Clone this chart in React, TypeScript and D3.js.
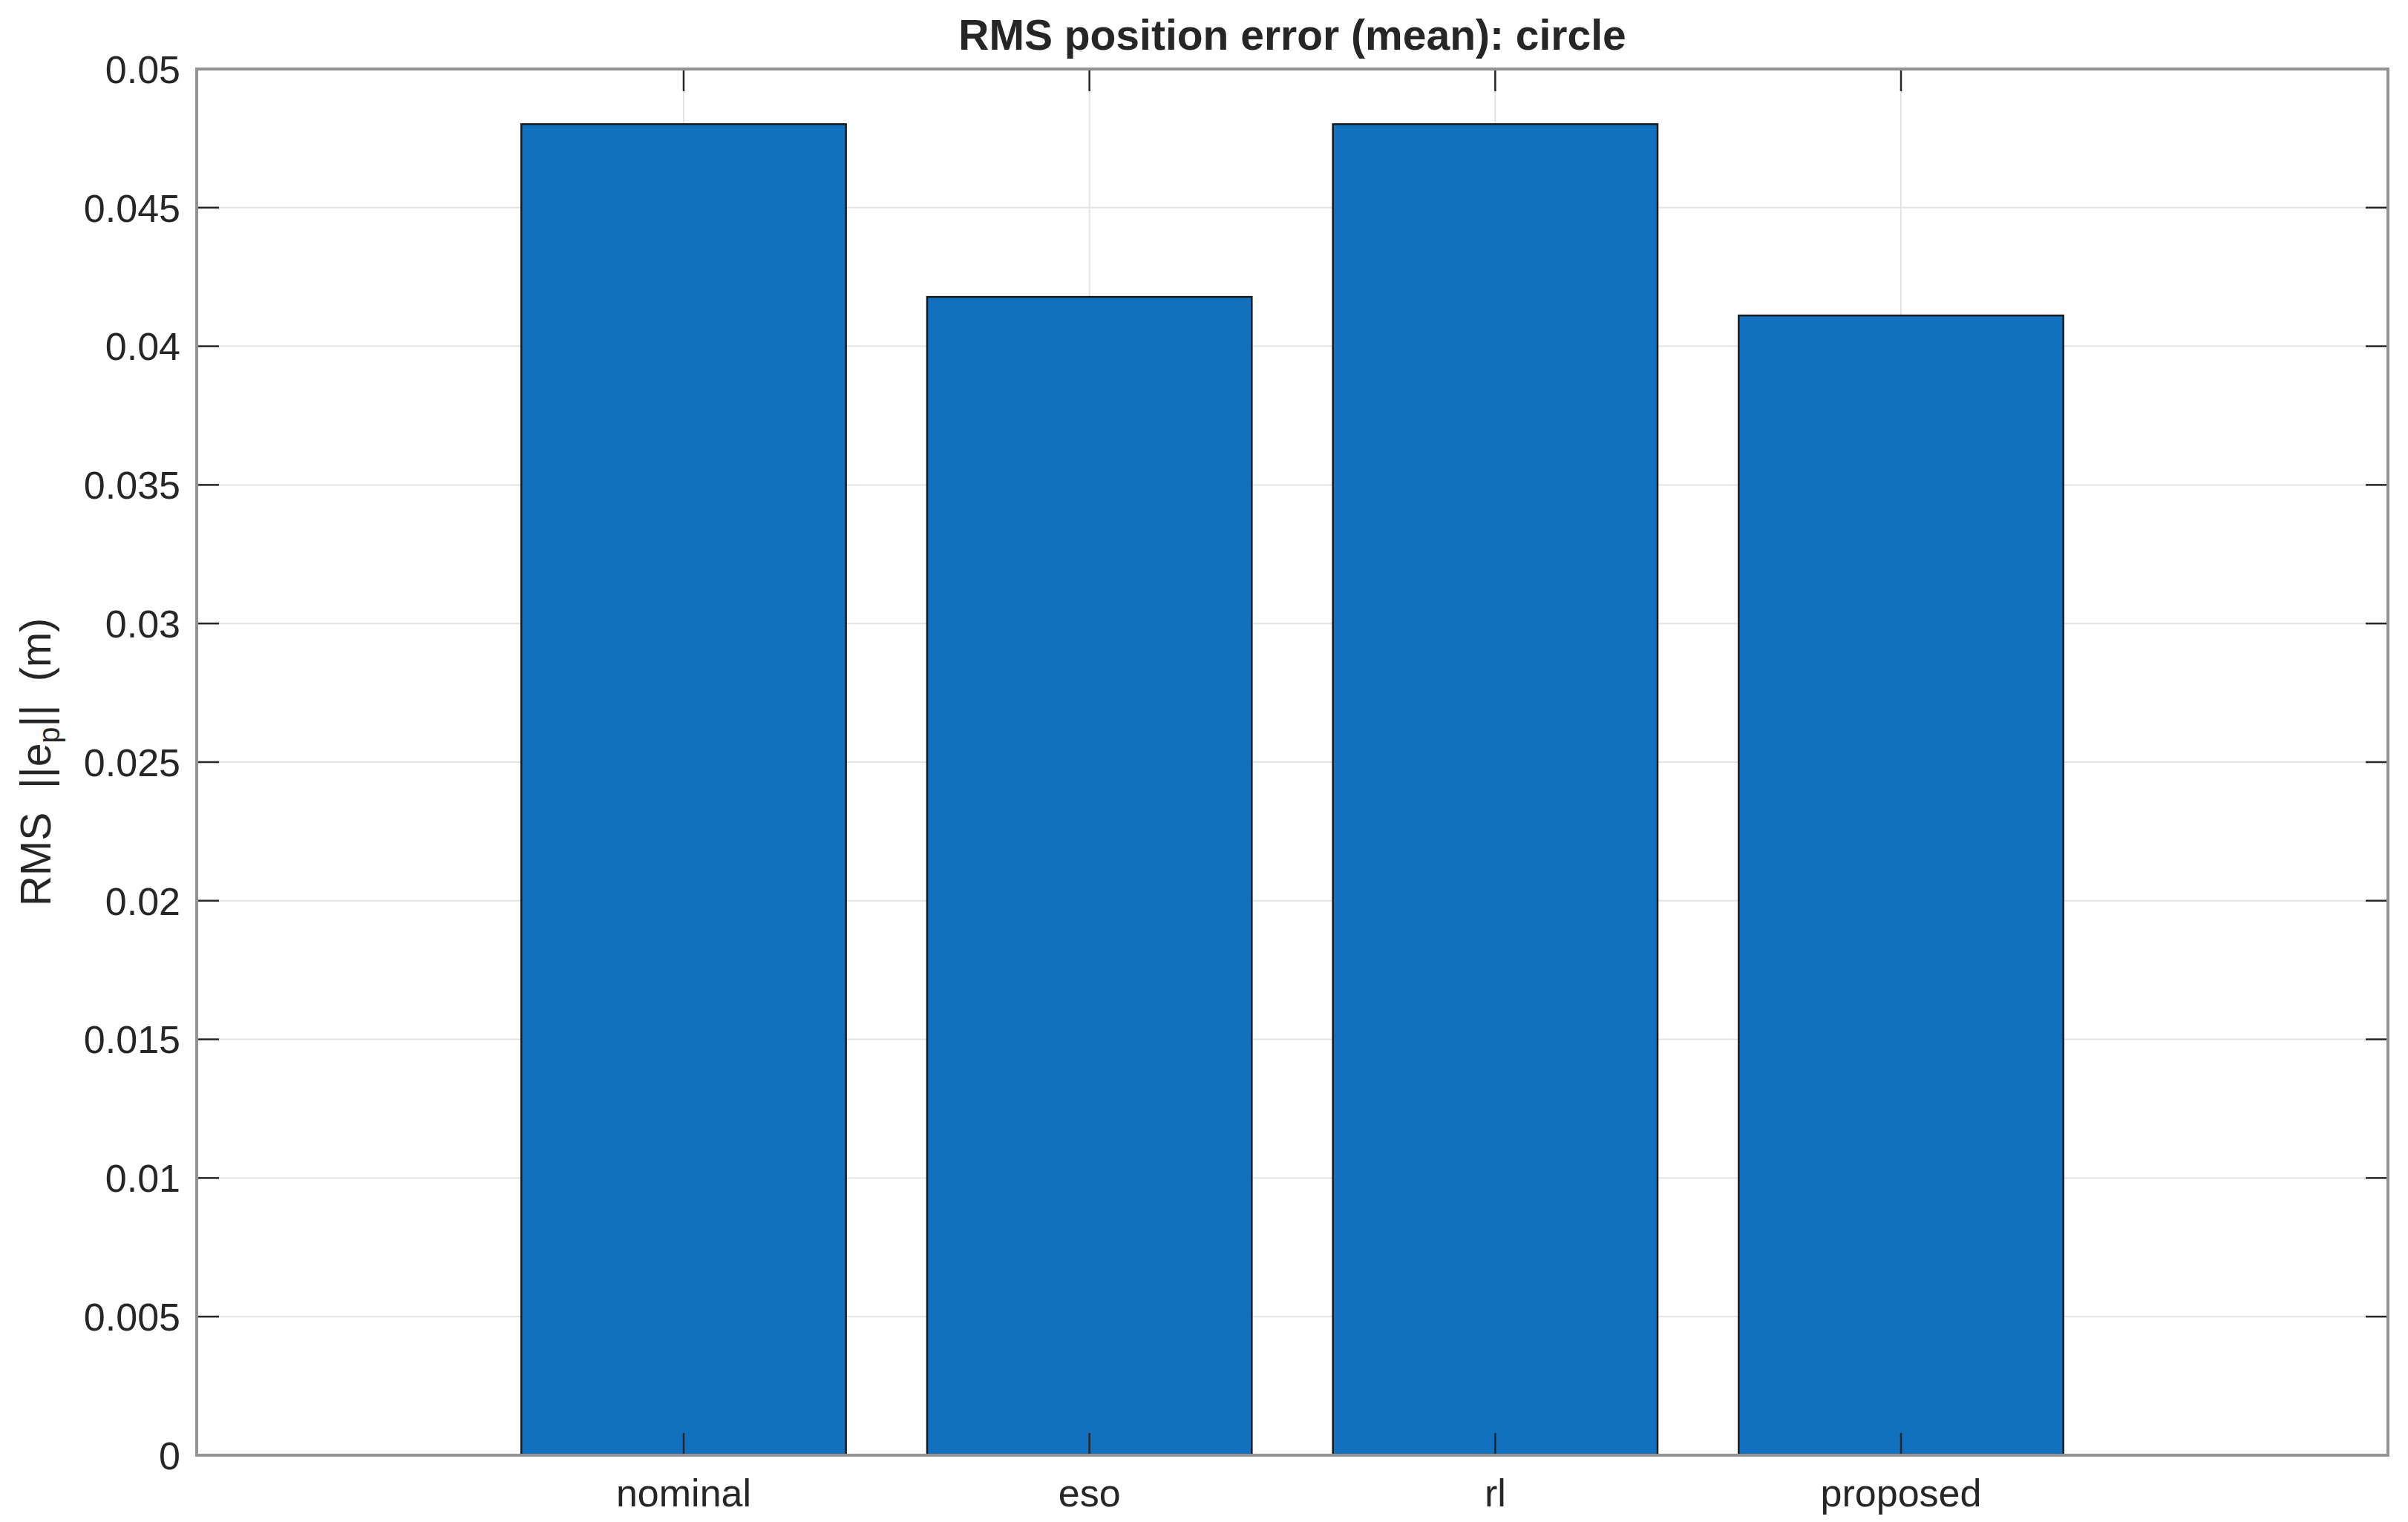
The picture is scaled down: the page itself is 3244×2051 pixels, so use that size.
import { useEffect, useRef } from "react";
import * as d3 from "d3";

// chart data
const categories = ["nominal", "eso", "rl", "proposed"];
const rmsValues = [0.04801, 0.04178, 0.04801, 0.04111];
const yTicks = [0, 0.005, 0.01, 0.015, 0.02, 0.025, 0.03, 0.035, 0.04, 0.045, 0.05];
const yTickLabels = ["0", "0.005", "0.01", "0.015", "0.02", "0.025", "0.03", "0.035", "0.04", "0.045", "0.05"];

const W = 3244;
const H = 2051;
const FONT = "'Liberation Sans', Arial, Helvetica, sans-serif";
const TEXT = "#262626";

const App = () => {
    const svgRef = useRef<SVGSVGElement>(null);

    useEffect(() => {
        const svg = d3.select(svgRef.current)
            .attr("width", W)
            .attr("height", H);

        svg.selectAll("*").remove();

        const left = 265, right = 3217, top = 93, bottom = 1961;

        // MATLAB-like axis: categories at 1..n, limits padded by 1.2
        const xPos = categories.map((_, i) => i + 1);
        const x = d3.scaleLinear().domain([-0.2, categories.length + 1.2]).range([left, right]);
        const y = d3.scaleLinear().domain([0, 0.05]).range([bottom, top]);
        const barW = x(0.8) - x(0);

        svg.append("rect")
            .attr("width", W).attr("height", H).attr("fill", "#ffffff");

        // grid
        const grid = svg.append("g").attr("stroke", "#e3e3e3").attr("stroke-width", 2);
        grid.selectAll("line.h")
            .data(yTicks.slice(1, -1))
            .join("line")
            .attr("x1", left).attr("x2", right)
            .attr("y1", d => y(d)).attr("y2", d => y(d));
        grid.selectAll("line.v")
            .data(xPos)
            .join("line")
            .attr("class", "v")
            .attr("y1", top).attr("y2", bottom)
            .attr("x1", d => x(d)).attr("x2", d => x(d));

        // bars
        svg.append("g")
            .selectAll("rect")
            .data(rmsValues)
            .join("rect")
            .attr("x", (_, i) => x(xPos[i]) - barW / 2)
            .attr("y", d => y(d))
            .attr("width", barW)
            .attr("height", d => y(0) - y(d))
            .attr("fill", "#1171BE")
            .attr("stroke", "#1a1a1a")
            .attr("stroke-width", 2.5);

        // ticks
        const ticks = svg.append("g").attr("stroke", TEXT).attr("stroke-width", 2.5);
        const tl = 30;
        yTicks.forEach(t => {
            ticks.append("line").attr("x1", left).attr("x2", left + tl).attr("y1", y(t)).attr("y2", y(t));
            ticks.append("line").attr("x1", right).attr("x2", right - tl).attr("y1", y(t)).attr("y2", y(t));
        });
        xPos.forEach(p => {
            ticks.append("line").attr("x1", x(p)).attr("x2", x(p)).attr("y1", bottom).attr("y2", bottom - tl);
            ticks.append("line").attr("x1", x(p)).attr("x2", x(p)).attr("y1", top).attr("y2", top + tl);
        });

        // axes box
        svg.append("rect")
            .attr("x", left).attr("y", top)
            .attr("width", right - left).attr("height", bottom - top)
            .attr("fill", "none")
            .attr("stroke", "#939393")
            .attr("stroke-width", 4);

        // y tick labels
        svg.append("g")
            .selectAll("text")
            .data(yTicks)
            .join("text")
            .attr("x", 243)
            .attr("y", d => y(d))
            .attr("dy", "0.36em")
            .attr("text-anchor", "end")
            .attr("font-family", FONT)
            .attr("font-size", 52)
            .attr("fill", TEXT)
            .text((_, i) => yTickLabels[i]);

        // x tick labels
        svg.append("g")
            .selectAll("text")
            .data(categories)
            .join("text")
            .attr("x", (_, i) => x(xPos[i]))
            .attr("y", 2030)
            .attr("text-anchor", "middle")
            .attr("font-family", FONT)
            .attr("font-size", 52)
            .attr("fill", TEXT)
            .text(d => d);

        // title
        svg.append("text")
            .attr("x", (left + right) / 2)
            .attr("y", 67)
            .attr("text-anchor", "middle")
            .attr("font-family", FONT)
            .attr("font-size", 57)
            .attr("font-weight", "bold")
            .attr("fill", TEXT)
            .text("RMS position error (mean): circle");

        // y label with subscript
        const yl = svg.append("text")
            .attr("transform", `translate(68, ${(top + bottom) / 2}) rotate(-90)`)
            .attr("text-anchor", "middle")
            .attr("font-family", FONT)
            .attr("font-size", 57)
            .attr("fill", TEXT)
            .style("white-space", "pre");
        yl.append("tspan").text("RMS  ||e");
        yl.append("tspan").attr("font-size", 40).attr("dy", 12).text("p");
        yl.append("tspan").attr("dy", -12).text("||  (m)");
    }, []);

    return (
        <svg
            ref={svgRef}
            style={{ position: "absolute", left: 0, top: 0, display: "block" }}
        />
    );
};

export default App;
